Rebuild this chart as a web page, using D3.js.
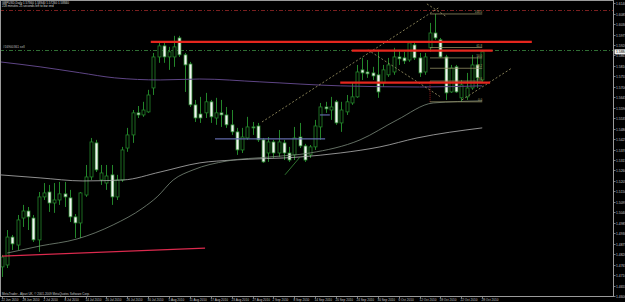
<!DOCTYPE html>
<html>
<head>
<meta charset="utf-8">
<script src="https://cdn.jsdelivr.net/npm/d3@7"></script>
<style>
html, body { margin: 0; padding: 0; background: #000; overflow: hidden; }
svg { display: block; }
</style>
</head>
<body>
<div id="chart"></div>
<script>
// GBPUSD daily candles, 22 Jun 2010 .. 28 Oct 2010 (one bar per trading day)
var dateTicks = ["22 Jun 2010", "28 Jun 2010", "2 Jul 2010", "8 Jul 2010", "14 Jul 2010", "20 Jul 2010",
    "26 Jul 2010", "30 Jul 2010", "5 Aug 2010", "11 Aug 2010", "17 Aug 2010", "23 Aug 2010",
    "27 Aug 2010", "2 Sep 2010", "8 Sep 2010", "14 Sep 2010", "20 Sep 2010", "24 Sep 2010",
    "30 Sep 2010", "6 Oct 2010", "12 Oct 2010", "18 Oct 2010", "22 Oct 2010", "28 Oct 2010"];

var opens = [1.4753, 1.4763, 1.4910, 1.4868, 1.5010, 1.5047, 1.5010, 1.4895, 1.5121, 1.5147,
    1.5089, 1.5105, 1.5137, 1.5116, 1.5016, 1.4984, 1.5131, 1.5226, 1.5405, 1.5210,
    1.5194, 1.5237, 1.5121, 1.5210, 1.5378, 1.5447, 1.5563, 1.5552, 1.5568, 1.5694,
    1.5857, 1.5915, 1.5857, 1.5857, 1.5957, 1.5868, 1.5820, 1.5605, 1.5557, 1.5563,
    1.5621, 1.5536, 1.5563, 1.5552, 1.5500, 1.5463, 1.5368, 1.5431, 1.5489, 1.5494,
    1.5421, 1.5352, 1.5410, 1.5352, 1.5405, 1.5352, 1.5342, 1.5436, 1.5389, 1.5342,
    1.5384, 1.5489, 1.5594, 1.5578, 1.5621, 1.5510, 1.5568, 1.5615, 1.5647, 1.5789,
    1.5778, 1.5773, 1.5763, 1.5720, 1.5763, 1.5778, 1.5857, 1.5852, 1.5841, 1.5920,
    1.5852, 1.5778, 1.5905, 1.5983, 1.5947, 1.5857, 1.5673, 1.5805, 1.5642, 1.5647,
    1.5694, 1.5815, 1.5736];
var highs = [1.4816, 1.4947, 1.4921, 1.5026, 1.5079, 1.5068, 1.5026, 1.5147, 1.5194, 1.5184,
    1.5194, 1.5200, 1.5200, 1.5158, 1.5031, 1.5147, 1.5289, 1.5431, 1.5421, 1.5289,
    1.5289, 1.5289, 1.5237, 1.5384, 1.5484, 1.5578, 1.5599, 1.5621, 1.5684, 1.5878,
    1.5931, 1.5931, 1.5910, 1.5968, 1.5968, 1.5878, 1.5831, 1.5631, 1.5647, 1.5668,
    1.5631, 1.5642, 1.5631, 1.5594, 1.5578, 1.5484, 1.5484, 1.5542, 1.5515, 1.5510,
    1.5431, 1.5436, 1.5421, 1.5473, 1.5421, 1.5384, 1.5489, 1.5510, 1.5400, 1.5394,
    1.5526, 1.5615, 1.5621, 1.5647, 1.5631, 1.5621, 1.5657, 1.5720, 1.5815, 1.5852,
    1.5841, 1.5805, 1.5894, 1.5815, 1.5852, 1.5905, 1.5894, 1.5884, 1.5936, 1.5931,
    1.5878, 1.5878, 1.6036, 1.6083, 1.5957, 1.5868, 1.5815, 1.5815, 1.5736, 1.5773,
    1.5868, 1.5857, 1.5894];
var lows = [1.4700, 1.4747, 1.4842, 1.4842, 1.4963, 1.4947, 1.4884, 1.4832, 1.5105, 1.5042,
    1.5037, 1.5079, 1.5068, 1.4989, 1.4905, 1.4905, 1.5121, 1.5210, 1.5252, 1.5184,
    1.5158, 1.5079, 1.5105, 1.5200, 1.5358, 1.5405, 1.5536, 1.5542, 1.5563, 1.5657,
    1.5826, 1.5826, 1.5789, 1.5805, 1.5857, 1.5673, 1.5594, 1.5515, 1.5510, 1.5536,
    1.5510, 1.5500, 1.5489, 1.5484, 1.5447, 1.5342, 1.5352, 1.5421, 1.5447, 1.5410,
    1.5300, 1.5305, 1.5326, 1.5331, 1.5315, 1.5305, 1.5315, 1.5378, 1.5305, 1.5326,
    1.5368, 1.5421, 1.5563, 1.5526, 1.5500, 1.5463, 1.5552, 1.5605, 1.5642, 1.5736,
    1.5747, 1.5736, 1.5642, 1.5699, 1.5752, 1.5763, 1.5815, 1.5820, 1.5831, 1.5841,
    1.5752, 1.5763, 1.5884, 1.5947, 1.5852, 1.5631, 1.5668, 1.5668, 1.5621, 1.5631,
    1.5684, 1.5694, 1.5726];
var closes = [1.4805, 1.4910, 1.4874, 1.5000, 1.5047, 1.5016, 1.4895, 1.5121, 1.5142, 1.5089,
    1.5105, 1.5137, 1.5121, 1.5016, 1.4984, 1.5142, 1.5226, 1.5410, 1.5263, 1.5247,
    1.5231, 1.5121, 1.5210, 1.5368, 1.5447, 1.5563, 1.5552, 1.5578, 1.5657, 1.5857,
    1.5915, 1.5857, 1.5884, 1.5910, 1.5868, 1.5815, 1.5605, 1.5536, 1.5536, 1.5621,
    1.5542, 1.5563, 1.5552, 1.5500, 1.5463, 1.5368, 1.5436, 1.5489, 1.5484, 1.5421,
    1.5305, 1.5410, 1.5352, 1.5410, 1.5352, 1.5315, 1.5431, 1.5389, 1.5315, 1.5384,
    1.5494, 1.5594, 1.5584, 1.5594, 1.5510, 1.5578, 1.5621, 1.5647, 1.5778, 1.5773,
    1.5768, 1.5757, 1.5673, 1.5789, 1.5815, 1.5857, 1.5847, 1.5836, 1.5931, 1.5852,
    1.5773, 1.5857, 1.5983, 1.5957, 1.5857, 1.5668, 1.5799, 1.5673, 1.5710, 1.5694,
    1.5815, 1.5747, 1.5884];

var priceTicks = [1.4600, 1.4655, 1.4710, 1.4765, 1.4820, 1.4875, 1.4930, 1.4985, 1.5040, 1.5095,
    1.5150, 1.5205, 1.5260, 1.5315, 1.5370, 1.5425, 1.5480, 1.5535, 1.5590, 1.5645,
    1.5700, 1.5755, 1.5810, 1.5865, 1.5920, 1.5975, 1.6030, 1.6085, 1.6140];

// moving averages: [bar, price]
var maSlow = [[-0.4, 1.5831], [7.3, 1.5805], [14.9, 1.5774], [21.6, 1.5747], [30.3, 1.5736],
    [37.9, 1.5741], [49.4, 1.5726], [64.8, 1.5705], [80, 1.5699], [92, 1.5705]];
var maMid = [[-0.4, 1.5237], [7.3, 1.5221], [15.5, 1.5205], [23.2, 1.5210], [30.3, 1.5252],
    [37.9, 1.5300], [44.3, 1.5315], [57.1, 1.5331], [64.8, 1.5352], [72.4, 1.5384],
    [79.5, 1.5431], [92, 1.5484]];
var maFast = [[1, 1.4826], [7.3, 1.4863], [14.4, 1.4900], [21.3, 1.4974], [27, 1.5063],
    [29.7, 1.5121], [32.8, 1.5210], [36.6, 1.5263], [43.1, 1.5310], [51.3, 1.5331],
    [59, 1.5352], [68.6, 1.5421], [75.7, 1.5526], [82.6, 1.5615], [92, 1.5626]];

// drawn objects: [fromBar, toBar, price]
var redLevels = [[28.5, 101.5, 1.5936], [67, 94, 1.5890], [64.8, 93.5, 1.5722]];
var supportLine = [[0, 1.4810], [38.9, 1.4852]];
var rangeLines = [[[40.8, 1.5426], [61.9, 1.5426]], [[60.9, 1.5552], [62.8, 1.5552]]];
var channelLines = [
    [[49.8, 1.5515], [83.9, 1.6120]],
    [[88.1, 1.5631], [97.7, 1.5799]],
    [[70.1, 1.5894], [83.9, 1.5649]],
    [[81.4, 1.6136], [85.2, 1.6068]]
];
var greenSegment = [[54.2, 1.5237], [57.1, 1.5331]];
var fibLevels = [0, 23.6, 38.2, 50, 61.8, 100];
var fibBars = [82, 92];
var stopLevel = 1.6104;
var orderLevel = 1.5894;
var orderLabel = "#16900361 sell";

var W = 625, H = 302, plotRight = 613.5, plotBottom = 296.5;
var green = "#23862a";
var font = "Liberation Sans, Arial, sans-serif";

var svg = d3.select("#chart").append("svg")
    .attr("width", W)
    .attr("height", H)
    .style("background", "#000");

var x = d3.scaleLinear().domain([0, 117]).range([2, 612.74]);
var y = d3.scaleLinear().domain([1.46, 1.614]).range([296, 3.12]);

var bars = opens.map(function(o, i){
    return {i: i, o: o, h: highs[i], l: lows[i], c: closes[i]};
});

var plot = svg.append("g");
plot.append("clipPath").attr("id", "clip")
    .append("rect").attr("x", 0).attr("y", 0).attr("width", plotRight).attr("height", plotBottom);
var g = plot.append("g").attr("clip-path", "url(#clip)");

var line = d3.line()
    .x(function(d){ return x(d[0]); })
    .y(function(d){ return y(d[1]); });

// order lines (dash-dot)
g.append("line")
    .attr("x1", 0).attr("x2", plotRight)
    .attr("y1", Math.round(y(stopLevel)) + 0.5).attr("y2", Math.round(y(stopLevel)) + 0.5)
    .attr("stroke", "#7a1f1f").attr("stroke-width", 1)
    .attr("stroke-dasharray", "4,2,1,2");
g.append("line")
    .attr("x1", 0).attr("x2", plotRight)
    .attr("y1", Math.round(y(orderLevel)) + 0.5).attr("y2", Math.round(y(orderLevel)) + 0.5)
    .attr("stroke", "#2f6e33").attr("stroke-width", 1)
    .attr("stroke-dasharray", "4,2,1,2");
g.append("text")
    .attr("x", 3).attr("y", y(orderLevel) - 1.5)
    .attr("fill", "#bfbfbf").attr("font-family", font).attr("font-size", 3.2)
    .text(orderLabel);

// candles
var candle = g.selectAll(".candle").data(bars).enter().append("g").attr("class", "candle");
candle.append("line")
    .attr("x1", function(d){ return Math.round(x(d.i)) + 0.5; })
    .attr("x2", function(d){ return Math.round(x(d.i)) + 0.5; })
    .attr("y1", function(d){ return y(d.h); })
    .attr("y2", function(d){ return y(d.l); })
    .attr("stroke", green).attr("stroke-width", 1);
candle.append("rect")
    .attr("x", function(d){ return Math.round(x(d.i)) - 1; })
    .attr("width", 3)
    .attr("y", function(d){ return y(Math.max(d.o, d.c)); })
    .attr("height", function(d){ return Math.max(1, Math.abs(y(d.o) - y(d.c))); })
    .attr("fill", function(d){ return d.c >= d.o ? "#000" : "#f2f2f2"; })
    .attr("stroke", green).attr("stroke-width", 0.8);

// moving averages
g.append("path").datum(maSlow).attr("d", line.curve(d3.curveMonotoneX))
    .attr("fill", "none").attr("stroke", "#5e4585").attr("stroke-width", 1);
g.append("path").datum(maMid).attr("d", line.curve(d3.curveMonotoneX))
    .attr("fill", "none").attr("stroke", "#b4b4b4").attr("stroke-width", 0.8);
g.append("path").datum(maFast).attr("d", line.curve(d3.curveMonotoneX))
    .attr("fill", "none").attr("stroke", "#7b8a7b").attr("stroke-width", 0.8);
line.curve(d3.curveLinear);

// support line at the bottom
g.append("path").datum(supportLine).attr("d", line)
    .attr("fill", "none").attr("stroke", "#dc2a4e").attr("stroke-width", 1.3);

// range lines
rangeLines.forEach(function(r){
    g.append("path").datum(r).attr("d", line)
        .attr("fill", "none").attr("stroke", "#6068a8").attr("stroke-width", 1.2);
});

// channel trendlines
channelLines.forEach(function(c){
    g.append("path").datum(c).attr("d", line)
        .attr("fill", "none").attr("stroke", "#a39c6a").attr("stroke-width", 0.8)
        .attr("stroke-dasharray", "2,2");
});
g.append("path").datum(greenSegment).attr("d", line)
    .attr("fill", "none").attr("stroke", "#3a8f3a").attr("stroke-width", 0.8);

// fibonacci retracement between the Oct high and the later low
var fibHigh = d3.max(highs.slice(fibBars[0], fibBars[1] + 1));
var fibLow = d3.min(lows.slice(fibBars[0] + 1, fibBars[1] + 1));
var fibPrice = function(lv){ return fibLow + (fibHigh - fibLow) * lv / 100; };
g.append("line")
    .attr("x1", x(fibBars[0])).attr("x2", x(fibBars[0]))
    .attr("y1", y(fibLow)).attr("y2", y(fibPrice(23.6)))
    .attr("stroke", "#c02020").attr("stroke-width", 0.8).attr("stroke-dasharray", "1,1");
fibLevels.forEach(function(lv){
    var yy = y(fibPrice(lv));
    g.append("line")
        .attr("x1", x(fibBars[0])).attr("x2", x(fibBars[1]))
        .attr("y1", yy).attr("y2", yy)
        .attr("stroke", "#8f8c62").attr("stroke-width", 0.8);
    g.append("text")
        .attr("x", x(fibBars[1])).attr("y", yy - 1)
        .attr("text-anchor", "end")
        .attr("fill", "#b3ad78").attr("font-family", font).attr("font-size", 3)
        .text(lv.toFixed(1));
});

// horizontal red levels
redLevels.forEach(function(r){
    g.append("line")
        .attr("x1", x(r[0])).attr("x2", x(r[1]))
        .attr("y1", y(r[2])).attr("y2", y(r[2]))
        .attr("stroke", "#e5261e").attr("stroke-width", 2.4);
});

// frame
svg.append("rect")
    .attr("x", 0.5).attr("y", 0.5)
    .attr("width", plotRight - 0.5).attr("height", plotBottom - 0.5)
    .attr("fill", "none").attr("stroke", "#9a9a9a").attr("stroke-width", 1);

// price axis
var pAxis = svg.append("g");
priceTicks.forEach(function(p){
    var yy = Math.round(y(p)) + 0.5;
    pAxis.append("line").attr("x1", plotRight).attr("x2", plotRight + 2)
        .attr("y1", yy).attr("y2", yy).attr("stroke", "#9a9a9a").attr("stroke-width", 0.8);
    pAxis.append("text").attr("x", plotRight + 2.5).attr("y", yy + 1.2)
        .attr("fill", "#c8c8c8").attr("font-family", font).attr("font-size", 3.4)
        .text(p.toFixed(4));
});
var last = bars[bars.length - 1];
pAxis.append("rect").attr("x", plotRight + 1).attr("y", y(last.c) - 2.5)
    .attr("width", W - plotRight).attr("height", 5).attr("fill", "#f0f0f0");
pAxis.append("text").attr("x", plotRight + 2.5).attr("y", y(last.c) + 1.3)
    .attr("fill", "#000").attr("font-family", font).attr("font-size", 3.4)
    .text(last.c.toFixed(4));

// time axis
dateTicks.forEach(function(t, k){
    var xx = Math.round(x(k * 4)) + 0.5;
    svg.append("line").attr("x1", xx).attr("x2", xx)
        .attr("y1", plotBottom).attr("y2", plotBottom + 2)
        .attr("stroke", "#9a9a9a").attr("stroke-width", 0.8);
    svg.append("text").attr("x", xx - 1).attr("y", 301)
        .attr("fill", "#c8c8c8").attr("font-family", font).attr("font-size", 3.1)
        .text(t);
});

// header and footer
svg.append("text").attr("x", 2).attr("y", 4.2)
    .attr("fill", "#d8d8d8").attr("font-family", font).attr("font-size", 3)
    .text("GBPUSD,Daily  " + [last.o, last.h, last.l, last.c].map(function(v){ return v.toFixed(5); }).join(" "));
svg.append("text").attr("x", 2).attr("y", 7.3)
    .attr("fill", "#d8d8d8").attr("font-family", font).attr("font-size", 3)
    .text("228 minutes 25 seconds left to bar end");
svg.append("text").attr("x", 2).attr("y", 295.2)
    .attr("fill", "#c8c8c8").attr("font-family", font).attr("font-size", 3)
    .text("MetaTrader - Alpari UK, \u00a9 2001-2009 MetaQuotes Software Corp.");
</script>
</body>
</html>
